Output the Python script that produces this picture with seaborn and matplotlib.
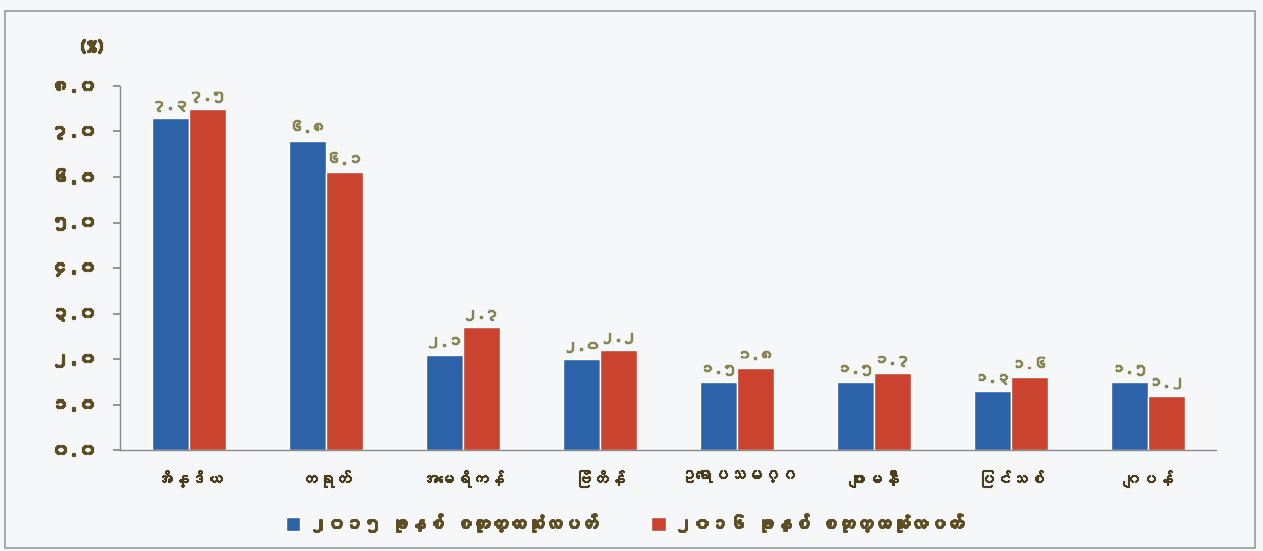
import matplotlib
matplotlib.use("Agg")
import matplotlib.pyplot as plt
import matplotlib.patheffects as pe
from matplotlib import font_manager
from matplotlib.ft2font import FT2Font
import seaborn as sns
import pandas as pd

# GDP growth by country, two years
countries = ["အိန္ဒိယ", "တရုတ်", "အမေရိကန်", "ဗြိတိန်",
             "ဥရောပသမဂ္ဂ", "ဂျာမနီ", "ပြင်သစ်", "ဂျပန်"]
growth_2015 = [7.3, 6.8, 2.1, 2.0, 1.5, 1.5, 1.3, 1.5]
growth_2016 = [7.5, 6.1, 2.7, 2.2, 1.8, 1.7, 1.6, 1.2]
series_names = ["၂၀၁၅ ခုနှစ် စတုတ္ထသုံးလပတ်", "၂၀၁၆ ခုနှစ် စတုတ္ထသုံးလပတ်"]
y_ticks = [0, 1, 2, 3, 4, 5, 6, 7, 8]

BLUE = "#2b62a8"
RED = "#c9432f"
TEXT = "#5c4d22"
LABEL = "#86844f"

sns.set_theme(style="white")


# look for any installed font that has Myanmar glyphs
def find_myanmar_family():
    for f in font_manager.fontManager.ttflist:
        try:
            cmap = FT2Font(f.fname).get_charmap()
        except Exception:
            continue
        if 0x1000 in cmap and 0x1014 in cmap:
            return f.name
    return None


mm_family = find_myanmar_family()
families = [mm_family, "DejaVu Sans"] if mm_family else ["DejaVu Sans"]
plt.rcParams["font.family"] = families

MM_DIGITS = str.maketrans("0123456789", "၀၁၂၃၄၅၆၇၈၉")


def mm_num(v):
    return f"{v:.1f}".translate(MM_DIGITS)


# fake heavier strokes, the Myanmar font has no bold face
def heavy(color, w=1.2):
    return [pe.withStroke(linewidth=w, foreground=color)]


df = pd.DataFrame({
    "country": countries * 2,
    "value": growth_2015 + growth_2016,
    "series": [series_names[0]] * len(countries) + [series_names[1]] * len(countries),
})

fig = plt.figure(figsize=(12.63, 5.51), dpi=100, facecolor="#f6f7f9")
ax = fig.add_axes([0.095, 0.183, 0.868, 0.661])
ax.set_facecolor("#f6f7f9")

sns.barplot(data=df, x="country", y="value", hue="series", palette=[BLUE, RED],
            width=0.54, saturation=1, ax=ax, legend=True)

for container, vals in zip(ax.containers, [growth_2015, growth_2016]):
    texts = ax.bar_label(container, labels=[mm_num(v) for v in vals], padding=5,
                         fontsize=10.5, color=LABEL)
    for t in texts:
        t.set_path_effects(heavy(LABEL, 1.0))

ax.set_ylim(0, 8)
ax.set_xlim(-0.5, len(countries) - 0.5)
ax.set_yticks(y_ticks)
ax.set_yticklabels([mm_num(v) for v in y_ticks], fontsize=13, color=TEXT)
for t in ax.get_yticklabels():
    t.set_path_effects(heavy(TEXT, 1.6))
ax.tick_params(axis="y", length=5, color="#888888", left=True, pad=12)
ax.tick_params(axis="x", length=0, pad=14, labelsize=12, labelcolor="#4a3f1c")
for t in ax.get_xticklabels():
    t.set_path_effects(heavy("#4a3f1c", 0.8))
ax.set_xlabel("")
ax.set_ylabel("")
for side in ["top", "right"]:
    ax.spines[side].set_visible(False)
for side in ["left", "bottom"]:
    ax.spines[side].set_color("#8a8a8a")
    ax.spines[side].set_linewidth(1.0)

fig.text(0.062, 0.905, "(%)", fontsize=13, fontweight="bold", color=TEXT,
         path_effects=heavy(TEXT, 1.6))

ax.legend(loc="upper center", bbox_to_anchor=(0.46, -0.13), ncol=2, frameon=False,
          fontsize=13, handlelength=0.8, handleheight=0.8, columnspacing=3,
          handletextpad=0.5)
for t in ax.get_legend().get_texts():
    t.set_color(TEXT)
    t.set_path_effects(heavy(TEXT, 1.4))

# outer frame of the chart area
fig.patches.append(plt.Rectangle((0.004, 0.005), 0.99, 0.975, transform=fig.transFigure,
                                 fill=False, edgecolor="#9a9a9a", linewidth=1.2))

fig.savefig("out.png", dpi=100, facecolor=fig.get_facecolor())
